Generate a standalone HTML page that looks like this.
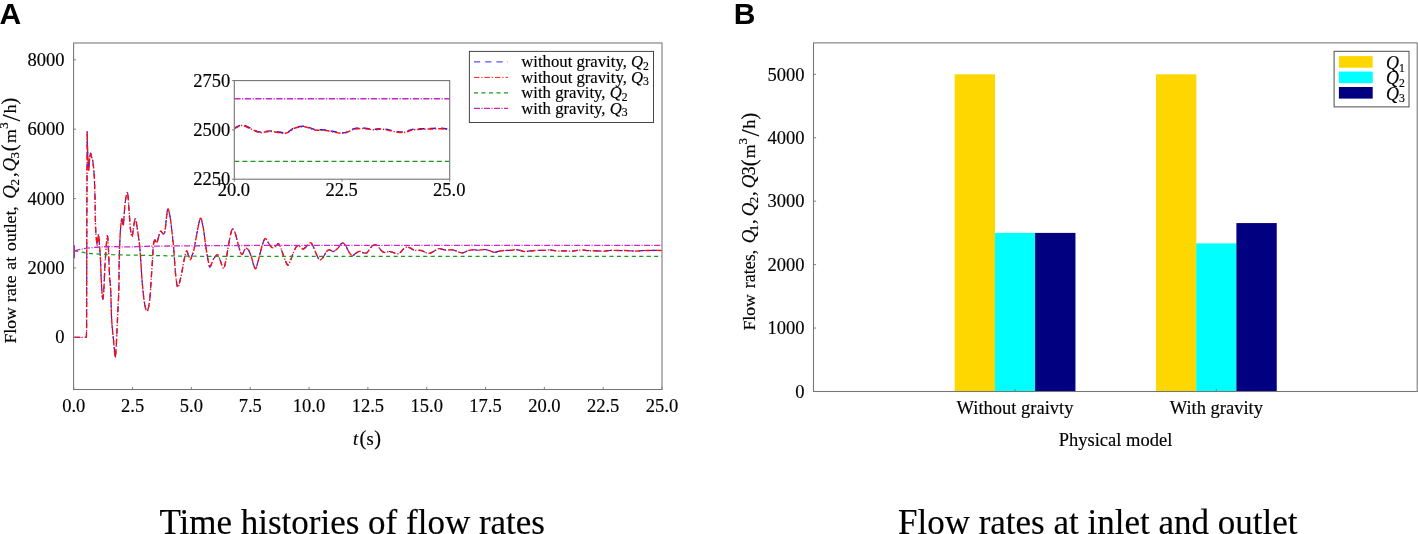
<!DOCTYPE html>
<html lang="en"><head><meta charset="utf-8"><title>Flow rates</title>
<style>html,body{margin:0;padding:0;background:#fff;}svg{display:block;}text{fill:#000;stroke:#000;stroke-width:.16px;}</style>
</head><body>
<svg width="1418" height="534" viewBox="0 0 1418 534">
<rect width="1418" height="534" fill="#fff"/>
<text x="-0.60" y="23.90" font-family="'Liberation Sans', Arial, Helvetica, sans-serif" font-size="30.00" text-anchor="start" font-weight="bold" style="stroke:none">A</text>
<text x="733.80" y="23.90" font-family="'Liberation Sans', Arial, Helvetica, sans-serif" font-size="30.00" text-anchor="start" font-weight="bold" style="stroke:none">B</text>
<defs><clipPath id="ca"><rect x="73.60" y="43.00" width="588.40" height="346.50"/></clipPath><clipPath id="ci"><rect x="234.30" y="80.60" width="215.40" height="98.60"/></clipPath></defs>
<g clip-path="url(#ca)" fill="none" stroke-linejoin="round">
<path d="M74.20 337.40L85.90 337.40L86.40 336.40L86.60 330.00L86.90 200.00L87.20 131.70C87.27 134.75 87.35 143.62 87.60 150.00C87.85 156.38 88.38 168.33 88.70 170.00C89.02 171.67 89.20 162.78 89.50 160.00C89.80 157.22 90.17 153.80 90.50 153.30C90.83 152.80 91.13 155.80 91.50 157.00C91.87 158.20 92.25 157.42 92.70 160.50C93.15 163.58 93.82 169.25 94.20 175.50C94.58 181.75 94.75 188.92 95.00 198.00C95.25 207.08 95.33 222.17 95.70 230.00C96.07 237.83 96.82 243.67 97.20 245.00C97.58 246.33 97.75 239.75 98.00 238.00C98.25 236.25 98.45 233.33 98.70 234.50C98.95 235.67 99.20 240.75 99.50 245.00C99.80 249.25 100.17 253.33 100.50 260.00C100.83 266.67 101.13 278.50 101.50 285.00C101.87 291.50 102.32 298.17 102.70 299.00C103.08 299.83 103.42 295.67 103.80 290.00C104.18 284.33 104.55 272.83 105.00 265.00C105.45 257.17 106.08 247.83 106.50 243.00C106.92 238.17 107.17 234.83 107.50 236.00C107.83 237.17 108.17 243.50 108.50 250.00C108.83 256.50 109.13 268.33 109.50 275.00C109.87 281.67 110.33 282.50 110.70 290.00C111.07 297.50 111.15 310.83 111.70 320.00C112.25 329.17 113.42 338.75 114.00 345.00C114.58 351.25 114.82 357.50 115.20 357.50C115.58 357.50 115.95 350.75 116.30 345.00C116.65 339.25 116.88 332.17 117.30 323.00C117.72 313.83 118.48 300.50 118.80 290.00C119.12 279.50 118.95 269.58 119.20 260.00C119.45 250.42 119.87 239.38 120.30 232.50C120.73 225.62 121.30 219.95 121.80 218.70C122.30 217.45 122.73 227.70 123.30 225.00C123.87 222.30 124.50 207.88 125.20 202.50C125.90 197.12 126.87 191.45 127.50 192.70C128.13 193.95 128.50 203.87 129.00 210.00C129.50 216.13 130.00 225.05 130.50 229.50C131.00 233.95 131.50 236.95 132.00 236.70C132.50 236.45 132.95 231.00 133.50 228.00C134.05 225.00 134.68 218.70 135.30 218.70C135.92 218.70 136.50 223.70 137.20 228.00C137.90 232.30 138.92 239.25 139.50 244.50C140.08 249.75 140.25 253.25 140.70 259.50C141.15 265.75 141.57 274.75 142.20 282.00C142.83 289.25 143.67 298.13 144.50 303.00C145.33 307.87 146.33 311.70 147.20 311.20C148.07 310.70 149.03 305.37 149.70 300.00C150.37 294.63 150.70 286.25 151.20 279.00C151.70 271.75 152.35 262.00 152.70 256.50C153.05 251.00 152.95 248.80 153.30 246.00C153.65 243.20 154.23 240.20 154.80 239.70C155.37 239.20 156.00 243.70 156.70 243.00C157.40 242.30 158.32 237.50 159.00 235.50C159.68 233.50 160.10 231.25 160.80 231.00C161.50 230.75 162.50 234.00 163.20 234.00C163.90 234.00 164.45 233.75 165.00 231.00C165.55 228.25 166.00 221.20 166.50 217.50C167.00 213.80 167.38 208.80 168.00 208.80C168.62 208.80 169.58 214.05 170.20 217.50C170.82 220.95 171.20 225.25 171.70 229.50C172.20 233.75 172.78 238.75 173.20 243.00C173.62 247.25 173.87 250.50 174.20 255.00C174.53 259.50 174.78 265.25 175.20 270.00C175.62 274.75 176.25 280.63 176.70 283.50C177.15 286.37 177.40 287.45 177.90 287.20C178.40 286.95 179.02 284.62 179.70 282.00C180.38 279.38 181.25 275.25 182.00 271.50C182.75 267.75 183.45 262.92 184.20 259.50C184.95 256.08 185.82 251.75 186.50 251.00C187.18 250.25 187.67 253.52 188.30 255.00C188.93 256.48 189.65 259.90 190.30 259.90C190.95 259.90 191.57 256.83 192.20 255.00C192.83 253.17 193.22 253.00 194.10 248.90C194.98 244.80 196.43 235.52 197.50 230.40C198.57 225.28 199.52 218.48 200.50 218.20C201.48 217.92 202.50 223.87 203.40 228.70C204.30 233.53 205.05 241.58 205.90 247.20C206.75 252.82 207.80 259.08 208.50 262.40C209.20 265.72 209.27 267.67 210.10 267.10C210.93 266.53 212.23 261.05 213.50 259.00C214.77 256.95 216.57 254.52 217.70 254.80C218.83 255.08 219.32 258.45 220.30 260.70C221.28 262.95 222.62 268.58 223.60 268.30C224.58 268.02 225.35 263.08 226.20 259.00C227.05 254.92 227.87 248.30 228.70 243.80C229.53 239.30 230.50 234.47 231.20 232.00C231.90 229.53 232.20 228.72 232.90 229.00C233.60 229.28 234.55 231.23 235.40 233.70C236.25 236.17 237.15 240.70 238.00 243.80C238.85 246.90 239.80 250.55 240.50 252.30C241.20 254.05 241.50 254.73 242.20 254.30C242.90 253.87 244.00 250.73 244.70 249.70C245.40 248.67 245.70 247.95 246.40 248.10C247.10 248.25 248.05 249.07 248.90 250.60C249.75 252.13 250.73 254.98 251.50 257.30C252.27 259.62 252.80 262.60 253.50 264.50C254.20 266.40 254.92 269.30 255.70 268.70C256.48 268.10 257.28 264.18 258.20 260.90C259.12 257.62 260.32 252.23 261.20 249.00C262.08 245.77 262.80 243.25 263.50 241.50C264.20 239.75 264.65 238.38 265.40 238.50C266.15 238.62 267.07 240.83 268.00 242.20C268.93 243.57 270.05 245.77 271.00 246.70C271.95 247.63 272.83 247.97 273.70 247.80C274.57 247.63 275.40 246.38 276.20 245.70C277.00 245.02 277.75 243.40 278.50 243.70C279.25 244.00 279.83 245.38 280.70 247.50C281.57 249.62 282.70 253.72 283.70 256.40C284.70 259.08 285.95 262.15 286.70 263.60C287.45 265.05 287.58 265.55 288.20 265.10C288.82 264.65 289.53 262.97 290.40 260.90C291.27 258.83 292.40 255.07 293.40 252.70C294.40 250.33 295.52 247.87 296.40 246.70C297.28 245.53 297.82 245.45 298.70 245.70C299.58 245.95 300.88 247.65 301.70 248.20C302.52 248.75 302.73 249.37 303.60 249.00C304.47 248.63 305.72 247.05 306.90 246.00C308.08 244.95 309.57 242.45 310.70 242.70C311.83 242.95 312.70 245.47 313.70 247.50C314.70 249.53 315.70 252.83 316.70 254.90C317.70 256.97 318.70 259.40 319.70 259.90C320.70 260.40 321.70 259.10 322.70 257.90C323.70 256.70 324.90 253.92 325.70 252.70C326.50 251.48 326.87 251.08 327.50 250.60C328.13 250.12 328.52 249.65 329.50 249.80C330.48 249.95 332.08 251.68 333.40 251.50C334.72 251.32 336.18 249.88 337.40 248.70C338.62 247.52 339.77 245.37 340.70 244.40C341.63 243.43 342.15 242.65 343.00 242.90C343.85 243.15 344.87 244.47 345.80 245.90C346.73 247.33 347.57 249.87 348.60 251.50C349.63 253.13 350.88 255.32 352.00 255.70C353.12 256.08 354.18 254.50 355.30 253.80C356.42 253.10 357.75 251.87 358.70 251.50C359.65 251.13 360.15 251.35 361.00 251.60C361.85 251.85 362.78 252.83 363.80 253.00C364.82 253.17 366.08 253.32 367.10 252.60C368.12 251.88 368.95 249.87 369.90 248.70C370.85 247.53 371.85 246.25 372.80 245.60C373.75 244.95 374.67 244.57 375.60 244.80C376.53 245.03 377.47 246.07 378.40 247.00C379.33 247.93 380.27 249.50 381.20 250.40C382.13 251.30 383.03 252.13 384.00 252.40C384.97 252.67 386.07 252.15 387.00 252.00C387.93 251.85 388.52 251.40 389.60 251.50C390.68 251.60 392.18 252.22 393.50 252.60C394.82 252.98 396.28 253.88 397.50 253.80C398.72 253.72 399.77 252.95 400.80 252.10C401.83 251.25 402.67 249.55 403.70 248.70C404.73 247.85 405.88 247.10 407.00 247.00C408.12 246.90 409.12 247.55 410.40 248.10C411.68 248.65 412.90 249.90 414.70 250.30C416.50 250.70 418.87 249.98 421.20 250.50C423.53 251.02 426.52 253.32 428.70 253.40C430.88 253.48 432.58 251.80 434.30 251.00C436.02 250.20 437.12 248.75 439.00 248.60C440.88 248.45 443.42 249.90 445.60 250.10C447.78 250.30 450.23 249.62 452.10 249.80C453.97 249.98 455.15 250.68 456.80 251.20C458.45 251.72 460.13 252.98 462.00 252.90C463.87 252.82 466.05 251.22 468.00 250.70C469.95 250.18 471.97 249.87 473.70 249.80C475.43 249.73 476.53 250.35 478.40 250.30C480.27 250.25 483.03 249.43 484.90 249.50C486.77 249.57 488.03 250.23 489.60 250.70C491.17 251.17 492.58 252.25 494.30 252.30C496.02 252.35 498.03 251.30 499.90 251.00C501.77 250.70 503.63 250.62 505.50 250.50C507.37 250.38 509.38 250.45 511.10 250.30C512.82 250.15 514.23 249.57 515.80 249.60C517.37 249.63 518.93 250.17 520.50 250.50C522.07 250.83 523.62 251.53 525.20 251.60C526.78 251.67 528.03 251.10 530.00 250.90C531.97 250.70 534.61 250.49 537.00 250.40C539.39 250.31 542.42 250.48 544.35 250.39C546.28 250.29 547.13 249.83 548.59 249.83C550.04 249.83 551.41 250.18 553.06 250.39C554.70 250.60 556.66 251.00 558.47 251.08C560.27 251.16 561.57 250.86 563.88 250.87C566.19 250.89 570.08 251.28 572.35 251.19C574.63 251.09 575.76 250.47 577.53 250.28C579.29 250.10 581.14 250.02 582.94 250.07C584.74 250.13 586.43 250.52 588.35 250.63C590.27 250.74 591.92 250.64 594.47 250.73C597.02 250.83 601.10 251.26 603.65 251.22C606.19 251.18 607.96 250.64 609.76 250.49C611.57 250.35 612.67 250.34 614.47 250.35C616.27 250.37 618.82 250.57 620.59 250.60C622.35 250.62 622.51 250.41 625.06 250.49C627.61 250.57 633.06 251.06 635.88 251.08C638.71 251.10 639.96 250.69 642.00 250.60C644.04 250.50 645.57 250.52 648.12 250.49C650.67 250.46 654.98 250.40 657.29 250.42C659.61 250.44 661.22 250.57 662.00 250.60" stroke="#1a1aff" stroke-width="1.15" stroke-dasharray="6.2 5"/>
<path d="M74.20 337.40L85.90 337.40L86.40 336.40L86.60 330.00L86.90 200.00L87.20 131.70C87.27 134.75 87.35 143.62 87.60 150.00C87.85 156.38 88.38 168.33 88.70 170.00C89.02 171.67 89.20 162.78 89.50 160.00C89.80 157.22 90.17 153.80 90.50 153.30C90.83 152.80 91.13 155.80 91.50 157.00C91.87 158.20 92.25 157.42 92.70 160.50C93.15 163.58 93.82 169.25 94.20 175.50C94.58 181.75 94.75 188.92 95.00 198.00C95.25 207.08 95.33 222.17 95.70 230.00C96.07 237.83 96.82 243.67 97.20 245.00C97.58 246.33 97.75 239.75 98.00 238.00C98.25 236.25 98.45 233.33 98.70 234.50C98.95 235.67 99.20 240.75 99.50 245.00C99.80 249.25 100.17 253.33 100.50 260.00C100.83 266.67 101.13 278.50 101.50 285.00C101.87 291.50 102.32 298.17 102.70 299.00C103.08 299.83 103.42 295.67 103.80 290.00C104.18 284.33 104.55 272.83 105.00 265.00C105.45 257.17 106.08 247.83 106.50 243.00C106.92 238.17 107.17 234.83 107.50 236.00C107.83 237.17 108.17 243.50 108.50 250.00C108.83 256.50 109.13 268.33 109.50 275.00C109.87 281.67 110.33 282.50 110.70 290.00C111.07 297.50 111.15 310.83 111.70 320.00C112.25 329.17 113.42 338.75 114.00 345.00C114.58 351.25 114.82 357.50 115.20 357.50C115.58 357.50 115.95 350.75 116.30 345.00C116.65 339.25 116.88 332.17 117.30 323.00C117.72 313.83 118.48 300.50 118.80 290.00C119.12 279.50 118.95 269.58 119.20 260.00C119.45 250.42 119.87 239.38 120.30 232.50C120.73 225.62 121.30 219.95 121.80 218.70C122.30 217.45 122.73 227.70 123.30 225.00C123.87 222.30 124.50 207.88 125.20 202.50C125.90 197.12 126.87 191.45 127.50 192.70C128.13 193.95 128.50 203.87 129.00 210.00C129.50 216.13 130.00 225.05 130.50 229.50C131.00 233.95 131.50 236.95 132.00 236.70C132.50 236.45 132.95 231.00 133.50 228.00C134.05 225.00 134.68 218.70 135.30 218.70C135.92 218.70 136.50 223.70 137.20 228.00C137.90 232.30 138.92 239.25 139.50 244.50C140.08 249.75 140.25 253.25 140.70 259.50C141.15 265.75 141.57 274.75 142.20 282.00C142.83 289.25 143.67 298.13 144.50 303.00C145.33 307.87 146.33 311.70 147.20 311.20C148.07 310.70 149.03 305.37 149.70 300.00C150.37 294.63 150.70 286.25 151.20 279.00C151.70 271.75 152.35 262.00 152.70 256.50C153.05 251.00 152.95 248.80 153.30 246.00C153.65 243.20 154.23 240.20 154.80 239.70C155.37 239.20 156.00 243.70 156.70 243.00C157.40 242.30 158.32 237.50 159.00 235.50C159.68 233.50 160.10 231.25 160.80 231.00C161.50 230.75 162.50 234.00 163.20 234.00C163.90 234.00 164.45 233.75 165.00 231.00C165.55 228.25 166.00 221.20 166.50 217.50C167.00 213.80 167.38 208.80 168.00 208.80C168.62 208.80 169.58 214.05 170.20 217.50C170.82 220.95 171.20 225.25 171.70 229.50C172.20 233.75 172.78 238.75 173.20 243.00C173.62 247.25 173.87 250.50 174.20 255.00C174.53 259.50 174.78 265.25 175.20 270.00C175.62 274.75 176.25 280.63 176.70 283.50C177.15 286.37 177.40 287.45 177.90 287.20C178.40 286.95 179.02 284.62 179.70 282.00C180.38 279.38 181.25 275.25 182.00 271.50C182.75 267.75 183.45 262.92 184.20 259.50C184.95 256.08 185.82 251.75 186.50 251.00C187.18 250.25 187.67 253.52 188.30 255.00C188.93 256.48 189.65 259.90 190.30 259.90C190.95 259.90 191.57 256.83 192.20 255.00C192.83 253.17 193.22 253.00 194.10 248.90C194.98 244.80 196.43 235.52 197.50 230.40C198.57 225.28 199.52 218.48 200.50 218.20C201.48 217.92 202.50 223.87 203.40 228.70C204.30 233.53 205.05 241.58 205.90 247.20C206.75 252.82 207.80 259.08 208.50 262.40C209.20 265.72 209.27 267.67 210.10 267.10C210.93 266.53 212.23 261.05 213.50 259.00C214.77 256.95 216.57 254.52 217.70 254.80C218.83 255.08 219.32 258.45 220.30 260.70C221.28 262.95 222.62 268.58 223.60 268.30C224.58 268.02 225.35 263.08 226.20 259.00C227.05 254.92 227.87 248.30 228.70 243.80C229.53 239.30 230.50 234.47 231.20 232.00C231.90 229.53 232.20 228.72 232.90 229.00C233.60 229.28 234.55 231.23 235.40 233.70C236.25 236.17 237.15 240.70 238.00 243.80C238.85 246.90 239.80 250.55 240.50 252.30C241.20 254.05 241.50 254.73 242.20 254.30C242.90 253.87 244.00 250.73 244.70 249.70C245.40 248.67 245.70 247.95 246.40 248.10C247.10 248.25 248.05 249.07 248.90 250.60C249.75 252.13 250.73 254.98 251.50 257.30C252.27 259.62 252.80 262.60 253.50 264.50C254.20 266.40 254.92 269.30 255.70 268.70C256.48 268.10 257.28 264.18 258.20 260.90C259.12 257.62 260.32 252.23 261.20 249.00C262.08 245.77 262.80 243.25 263.50 241.50C264.20 239.75 264.65 238.38 265.40 238.50C266.15 238.62 267.07 240.83 268.00 242.20C268.93 243.57 270.05 245.77 271.00 246.70C271.95 247.63 272.83 247.97 273.70 247.80C274.57 247.63 275.40 246.38 276.20 245.70C277.00 245.02 277.75 243.40 278.50 243.70C279.25 244.00 279.83 245.38 280.70 247.50C281.57 249.62 282.70 253.72 283.70 256.40C284.70 259.08 285.95 262.15 286.70 263.60C287.45 265.05 287.58 265.55 288.20 265.10C288.82 264.65 289.53 262.97 290.40 260.90C291.27 258.83 292.40 255.07 293.40 252.70C294.40 250.33 295.52 247.87 296.40 246.70C297.28 245.53 297.82 245.45 298.70 245.70C299.58 245.95 300.88 247.65 301.70 248.20C302.52 248.75 302.73 249.37 303.60 249.00C304.47 248.63 305.72 247.05 306.90 246.00C308.08 244.95 309.57 242.45 310.70 242.70C311.83 242.95 312.70 245.47 313.70 247.50C314.70 249.53 315.70 252.83 316.70 254.90C317.70 256.97 318.70 259.40 319.70 259.90C320.70 260.40 321.70 259.10 322.70 257.90C323.70 256.70 324.90 253.92 325.70 252.70C326.50 251.48 326.87 251.08 327.50 250.60C328.13 250.12 328.52 249.65 329.50 249.80C330.48 249.95 332.08 251.68 333.40 251.50C334.72 251.32 336.18 249.88 337.40 248.70C338.62 247.52 339.77 245.37 340.70 244.40C341.63 243.43 342.15 242.65 343.00 242.90C343.85 243.15 344.87 244.47 345.80 245.90C346.73 247.33 347.57 249.87 348.60 251.50C349.63 253.13 350.88 255.32 352.00 255.70C353.12 256.08 354.18 254.50 355.30 253.80C356.42 253.10 357.75 251.87 358.70 251.50C359.65 251.13 360.15 251.35 361.00 251.60C361.85 251.85 362.78 252.83 363.80 253.00C364.82 253.17 366.08 253.32 367.10 252.60C368.12 251.88 368.95 249.87 369.90 248.70C370.85 247.53 371.85 246.25 372.80 245.60C373.75 244.95 374.67 244.57 375.60 244.80C376.53 245.03 377.47 246.07 378.40 247.00C379.33 247.93 380.27 249.50 381.20 250.40C382.13 251.30 383.03 252.13 384.00 252.40C384.97 252.67 386.07 252.15 387.00 252.00C387.93 251.85 388.52 251.40 389.60 251.50C390.68 251.60 392.18 252.22 393.50 252.60C394.82 252.98 396.28 253.88 397.50 253.80C398.72 253.72 399.77 252.95 400.80 252.10C401.83 251.25 402.67 249.55 403.70 248.70C404.73 247.85 405.88 247.10 407.00 247.00C408.12 246.90 409.12 247.55 410.40 248.10C411.68 248.65 412.90 249.90 414.70 250.30C416.50 250.70 418.87 249.98 421.20 250.50C423.53 251.02 426.52 253.32 428.70 253.40C430.88 253.48 432.58 251.80 434.30 251.00C436.02 250.20 437.12 248.75 439.00 248.60C440.88 248.45 443.42 249.90 445.60 250.10C447.78 250.30 450.23 249.62 452.10 249.80C453.97 249.98 455.15 250.68 456.80 251.20C458.45 251.72 460.13 252.98 462.00 252.90C463.87 252.82 466.05 251.22 468.00 250.70C469.95 250.18 471.97 249.87 473.70 249.80C475.43 249.73 476.53 250.35 478.40 250.30C480.27 250.25 483.03 249.43 484.90 249.50C486.77 249.57 488.03 250.23 489.60 250.70C491.17 251.17 492.58 252.25 494.30 252.30C496.02 252.35 498.03 251.30 499.90 251.00C501.77 250.70 503.63 250.62 505.50 250.50C507.37 250.38 509.38 250.45 511.10 250.30C512.82 250.15 514.23 249.57 515.80 249.60C517.37 249.63 518.93 250.17 520.50 250.50C522.07 250.83 523.62 251.53 525.20 251.60C526.78 251.67 528.03 251.10 530.00 250.90C531.97 250.70 534.61 250.49 537.00 250.40C539.39 250.31 542.42 250.48 544.35 250.39C546.28 250.29 547.13 249.83 548.59 249.83C550.04 249.83 551.41 250.18 553.06 250.39C554.70 250.60 556.66 251.00 558.47 251.08C560.27 251.16 561.57 250.86 563.88 250.87C566.19 250.89 570.08 251.28 572.35 251.19C574.63 251.09 575.76 250.47 577.53 250.28C579.29 250.10 581.14 250.02 582.94 250.07C584.74 250.13 586.43 250.52 588.35 250.63C590.27 250.74 591.92 250.64 594.47 250.73C597.02 250.83 601.10 251.26 603.65 251.22C606.19 251.18 607.96 250.64 609.76 250.49C611.57 250.35 612.67 250.34 614.47 250.35C616.27 250.37 618.82 250.57 620.59 250.60C622.35 250.62 622.51 250.41 625.06 250.49C627.61 250.57 633.06 251.06 635.88 251.08C638.71 251.10 639.96 250.69 642.00 250.60C644.04 250.50 645.57 250.52 648.12 250.49C650.67 250.46 654.98 250.40 657.29 250.42C659.61 250.44 661.22 250.57 662.00 250.60" stroke="#ff0d0d" stroke-width="1.4" stroke-dasharray="5.4 1.9 1.3 1.9"/>
<path d="M74.40 250.60C76.17 250.97 80.83 252.22 85.00 252.80C89.17 253.38 94.47 253.78 99.40 254.10C104.33 254.42 107.55 254.55 114.60 254.75C121.65 254.95 132.97 255.12 141.70 255.30C150.43 255.48 158.55 255.66 167.00 255.80C175.45 255.94 178.57 256.07 192.40 256.15C206.23 256.23 171.67 256.27 250.00 256.30C328.33 256.33 593.67 256.30 662.40 256.30" stroke="#1f961f" stroke-width="1.25" stroke-dasharray="4 3.44"/>
<path d="M74.4 245.3L74.4 258.2" stroke="#c01ac0" stroke-width="1.2"/>
<path d="M74.40 250.80C75.33 250.57 77.95 249.83 80.00 249.40C82.05 248.97 83.47 248.60 86.70 248.20C89.93 247.80 95.18 247.27 99.40 247.00C103.62 246.73 107.07 246.62 112.00 246.60C116.93 246.58 124.05 246.93 129.00 246.90C133.95 246.88 136.77 246.57 141.70 246.45C146.63 246.32 150.15 246.26 158.60 246.15C167.05 246.04 180.50 245.90 192.40 245.80C204.30 245.70 212.07 245.61 230.00 245.55C247.93 245.49 227.93 245.47 300.00 245.45C372.07 245.43 602.00 245.45 662.40 245.45" stroke="#c727c7" stroke-width="1.3" stroke-dasharray="6 1.5 1 1.5"/>
</g>
<rect x="73.60" y="43.00" width="588.40" height="346.50" fill="none" stroke="#757575" stroke-width="1.05"/>
<path d="M73.75 389.50v-2.6M132.57 389.50v-2.6M191.40 389.50v-2.6M250.23 389.50v-2.6M309.05 389.50v-2.6M367.88 389.50v-2.6M426.70 389.50v-2.6M485.53 389.50v-2.6M544.35 389.50v-2.6M603.18 389.50v-2.6M662.00 389.50v-2.6M73.60 337.30h2.3M73.60 267.92h2.3M73.60 198.55h2.3M73.60 129.17h2.3M73.60 59.80h2.3" stroke="#757575" stroke-width="0.9" fill="none"/>
<text x="73.75" y="411.50" font-family="'Liberation Serif', 'Times New Roman', Times, serif" font-size="18.50" text-anchor="middle" >0.0</text>
<text x="132.57" y="411.50" font-family="'Liberation Serif', 'Times New Roman', Times, serif" font-size="18.50" text-anchor="middle" >2.5</text>
<text x="191.40" y="411.50" font-family="'Liberation Serif', 'Times New Roman', Times, serif" font-size="18.50" text-anchor="middle" >5.0</text>
<text x="250.23" y="411.50" font-family="'Liberation Serif', 'Times New Roman', Times, serif" font-size="18.50" text-anchor="middle" >7.5</text>
<text x="309.05" y="411.50" font-family="'Liberation Serif', 'Times New Roman', Times, serif" font-size="18.50" text-anchor="middle" >10.0</text>
<text x="367.88" y="411.50" font-family="'Liberation Serif', 'Times New Roman', Times, serif" font-size="18.50" text-anchor="middle" >12.5</text>
<text x="426.70" y="411.50" font-family="'Liberation Serif', 'Times New Roman', Times, serif" font-size="18.50" text-anchor="middle" >15.0</text>
<text x="485.53" y="411.50" font-family="'Liberation Serif', 'Times New Roman', Times, serif" font-size="18.50" text-anchor="middle" >17.5</text>
<text x="544.35" y="411.50" font-family="'Liberation Serif', 'Times New Roman', Times, serif" font-size="18.50" text-anchor="middle" >20.0</text>
<text x="603.18" y="411.50" font-family="'Liberation Serif', 'Times New Roman', Times, serif" font-size="18.50" text-anchor="middle" >22.5</text>
<text x="662.00" y="411.50" font-family="'Liberation Serif', 'Times New Roman', Times, serif" font-size="18.50" text-anchor="middle" >25.0</text>
<text x="64.60" y="343.40" font-family="'Liberation Serif', 'Times New Roman', Times, serif" font-size="18.50" text-anchor="end" >0</text>
<text x="64.60" y="274.02" font-family="'Liberation Serif', 'Times New Roman', Times, serif" font-size="18.50" text-anchor="end" >2000</text>
<text x="64.60" y="204.65" font-family="'Liberation Serif', 'Times New Roman', Times, serif" font-size="18.50" text-anchor="end" >4000</text>
<text x="64.60" y="135.27" font-family="'Liberation Serif', 'Times New Roman', Times, serif" font-size="18.50" text-anchor="end" >6000</text>
<text x="64.60" y="65.90" font-family="'Liberation Serif', 'Times New Roman', Times, serif" font-size="18.50" text-anchor="end" >8000</text>
<text font-family="'Liberation Serif', 'Times New Roman', Times, serif" font-size="18.50" y="444.8"><tspan x="353.0" font-style="italic">t</tspan><tspan x="359.6" dy="0.6" font-size="20.35">(</tspan><tspan x="366.6" dy="-0.6" font-size="18.50">s</tspan><tspan x="374.2" dy="0.6" font-size="20.35">)</tspan></text>
<g transform="translate(15.70 343.30) rotate(-90)">
<text font-family="'Liberation Serif', 'Times New Roman', Times, serif" font-size="18.50">
<tspan x="-0.30" y="0.00" font-size="17.70">Flow</tspan>
<tspan x="41.30" y="0.00" font-size="17.70">rate</tspan>
<tspan x="73.60" y="0.00" font-size="17.70">at</tspan>
<tspan x="92.40" y="0.00" font-size="17.70">outlet,</tspan>
<tspan x="144.60" y="0.00" font-size="18.87" font-style="italic">Q</tspan>
<tspan x="157.70" y="3.30" font-size="12.95">2</tspan>
<tspan x="166.30" y="0.00" font-size="18.50">,</tspan>
<tspan x="171.70" y="0.00" font-size="18.87" font-style="italic">Q</tspan>
<tspan x="184.70" y="3.30" font-size="12.95">3</tspan>
<tspan x="192.10" y="0.60" font-size="20.35">(</tspan>
<tspan x="200.20" y="0.00" font-size="17.70">m</tspan>
<tspan x="214.50" y="-7.60" font-size="12.95">3</tspan>
<tspan x="221.70" y="3.90" font-size="25.71">/</tspan>
<tspan x="230.10" y="0.00" font-size="17.70">h</tspan>
<tspan x="238.70" y="0.60" font-size="20.35">)</tspan>
</text></g>
<rect x="234.30" y="80.60" width="215.40" height="98.60" fill="#fff" stroke="none"/>
<g clip-path="url(#ci)" fill="none" stroke-linejoin="round">
<path d="M234.30 161.45H449.70" stroke="#1f961f" stroke-width="1.3" stroke-dasharray="5 3.1"/>
<path d="M234.30 98.74H449.70" stroke="#c727c7" stroke-width="1.3" stroke-dasharray="6.2 1.6 1.1 1.6"/>
<path d="M234.30 128.13C235.59 127.60 239.40 124.97 242.05 124.97C244.71 124.97 247.22 126.94 250.24 128.13C253.26 129.31 256.85 131.61 260.15 132.07C263.45 132.53 265.82 130.79 270.06 130.89C274.29 130.98 281.40 133.22 285.57 132.66C289.73 132.10 291.81 128.59 295.04 127.53C298.27 126.48 301.65 126.02 304.95 126.35C308.25 126.68 311.34 128.88 314.86 129.51C318.38 130.13 321.39 129.54 326.06 130.10C330.73 130.66 338.19 133.09 342.86 132.86C347.53 132.63 350.76 129.54 354.06 128.72C357.37 127.90 359.38 127.83 362.68 127.93C365.98 128.03 370.65 129.18 373.88 129.31C377.11 129.44 377.40 128.26 382.06 128.72C386.73 129.18 396.71 131.97 401.88 132.07C407.05 132.17 409.35 129.87 413.08 129.31C416.82 128.75 419.62 128.88 424.28 128.72C428.95 128.55 436.85 128.22 441.08 128.32C445.32 128.42 448.26 129.14 449.70 129.31" stroke="#1a1aff" stroke-width="1.45" stroke-dasharray="6.2 5"/>
<path d="M234.30 128.62C235.59 128.09 239.40 125.46 242.05 125.46C244.71 125.46 247.22 127.44 250.24 128.62C253.26 129.80 256.85 132.10 260.15 132.56C263.45 133.02 265.82 131.28 270.06 131.38C274.29 131.48 281.40 133.71 285.57 133.15C289.73 132.60 291.81 129.08 295.04 128.03C298.27 126.97 301.65 126.51 304.95 126.84C308.25 127.17 311.34 129.37 314.86 130.00C318.38 130.62 321.39 130.03 326.06 130.59C330.73 131.15 338.19 133.58 342.86 133.35C347.53 133.12 350.76 130.03 354.06 129.21C357.37 128.39 359.38 128.32 362.68 128.42C365.98 128.52 370.65 129.67 373.88 129.80C377.11 129.93 377.40 128.75 382.06 129.21C386.73 129.67 396.71 132.46 401.88 132.56C407.05 132.66 409.35 130.36 413.08 129.80C416.82 129.24 419.62 129.37 424.28 129.21C428.95 129.05 436.85 128.72 441.08 128.82C445.32 128.91 448.26 129.64 449.70 129.80" stroke="#ff0d0d" stroke-width="1.5" stroke-dasharray="5.4 1.9 1.3 1.9"/>
</g>
<rect x="234.30" y="80.60" width="215.40" height="98.60" fill="none" stroke="#757575" stroke-width="1.1"/>
<path d="M234.30 179.20v2.4M234.30 80.60h-2.4M342.00 179.20v2.4M234.30 129.90h-2.4M449.70 179.20v2.4M234.30 179.20h-2.4" stroke="#757575" stroke-width="0.9" fill="none"/>
<text x="233.90" y="195.70" font-family="'Liberation Serif', 'Times New Roman', Times, serif" font-size="18.50" text-anchor="middle" >20.0</text>
<text x="341.60" y="195.70" font-family="'Liberation Serif', 'Times New Roman', Times, serif" font-size="18.50" text-anchor="middle" >22.5</text>
<text x="449.30" y="195.70" font-family="'Liberation Serif', 'Times New Roman', Times, serif" font-size="18.50" text-anchor="middle" >25.0</text>
<text x="230.20" y="86.50" font-family="'Liberation Serif', 'Times New Roman', Times, serif" font-size="18.50" text-anchor="end" >2750</text>
<text x="230.20" y="135.80" font-family="'Liberation Serif', 'Times New Roman', Times, serif" font-size="18.50" text-anchor="end" >2500</text>
<text x="230.20" y="185.10" font-family="'Liberation Serif', 'Times New Roman', Times, serif" font-size="18.50" text-anchor="end" >2250</text>
<rect x="469.4" y="51.4" width="184.1" height="71.1" fill="#fff" stroke="#454545" stroke-width="1"/>
<path d="M474 61.90H508" stroke="#1a1aff" stroke-width="0.95" stroke-dasharray="6.2 5" fill="none"/>
<path d="M474 77.40H508" stroke="#ff0d0d" stroke-width="0.95" stroke-dasharray="5.4 1.9 1.3 1.9" fill="none"/>
<path d="M474 92.80H508" stroke="#1f961f" stroke-width="1.25" stroke-dasharray="4 3.5" fill="none"/>
<path d="M474 108.30H508" stroke="#c727c7" stroke-width="1.3" stroke-dasharray="6 1.5 1 1.5" fill="none"/>
<text x="521.30" y="67.40" font-family="'Liberation Serif', 'Times New Roman', Times, serif" font-size="16.70" text-anchor="start" >without gravity, <tspan font-style="italic" font-size="100%">Q</tspan><tspan font-size="70%" dy="0.22em">2</tspan></text>
<text x="521.30" y="82.90" font-family="'Liberation Serif', 'Times New Roman', Times, serif" font-size="16.70" text-anchor="start" >without gravity, <tspan font-style="italic" font-size="100%">Q</tspan><tspan font-size="70%" dy="0.22em">3</tspan></text>
<text x="521.30" y="98.30" font-family="'Liberation Serif', 'Times New Roman', Times, serif" font-size="16.70" text-anchor="start" >with gravity, <tspan font-style="italic" font-size="100%">Q</tspan><tspan font-size="70%" dy="0.22em">2</tspan></text>
<text x="521.30" y="113.80" font-family="'Liberation Serif', 'Times New Roman', Times, serif" font-size="16.70" text-anchor="start" >with gravity, <tspan font-style="italic" font-size="100%">Q</tspan><tspan font-size="70%" dy="0.22em">3</tspan></text>
<text x="352.20" y="533.90" font-family="'Liberation Serif', 'Times New Roman', Times, serif" font-size="35.00" text-anchor="middle" >Time histories of flow rates</text>
<rect x="954.70" y="74.30" width="40.35" height="317.20" fill="#ffd700"/>
<rect x="994.90" y="232.90" width="40.35" height="158.60" fill="#00ffff"/>
<rect x="1035.10" y="232.90" width="40.35" height="158.60" fill="#000080"/>
<rect x="1156.00" y="74.30" width="40.35" height="317.20" fill="#ffd700"/>
<rect x="1196.20" y="243.37" width="40.35" height="148.13" fill="#00ffff"/>
<rect x="1236.40" y="223.07" width="40.35" height="168.43" fill="#000080"/>
<rect x="813.50" y="42.90" width="603.70" height="348.60" fill="none" stroke="#757575" stroke-width="1.05"/>
<path d="M813.50 391.50h2.6M813.50 328.06h2.6M813.50 264.62h2.6M813.50 201.18h2.6M813.50 137.74h2.6M813.50 74.30h2.6M1015.00 391.50v-2.6M1216.30 391.50v-2.6" stroke="#757575" stroke-width="0.9" fill="none"/>
<text x="804.40" y="397.80" font-family="'Liberation Serif', 'Times New Roman', Times, serif" font-size="18.50" text-anchor="end" >0</text>
<text x="804.40" y="334.36" font-family="'Liberation Serif', 'Times New Roman', Times, serif" font-size="18.50" text-anchor="end" >1000</text>
<text x="804.40" y="270.92" font-family="'Liberation Serif', 'Times New Roman', Times, serif" font-size="18.50" text-anchor="end" >2000</text>
<text x="804.40" y="207.48" font-family="'Liberation Serif', 'Times New Roman', Times, serif" font-size="18.50" text-anchor="end" >3000</text>
<text x="804.40" y="144.04" font-family="'Liberation Serif', 'Times New Roman', Times, serif" font-size="18.50" text-anchor="end" >4000</text>
<text x="804.40" y="80.60" font-family="'Liberation Serif', 'Times New Roman', Times, serif" font-size="18.50" text-anchor="end" >5000</text>
<text x="1015.00" y="413.70" font-family="'Liberation Serif', 'Times New Roman', Times, serif" font-size="18.50" text-anchor="middle" >Without graivty</text>
<text x="1216.30" y="413.70" font-family="'Liberation Serif', 'Times New Roman', Times, serif" font-size="18.50" text-anchor="middle" >With gravity</text>
<text x="1115.50" y="445.80" font-family="'Liberation Serif', 'Times New Roman', Times, serif" font-size="18.50" text-anchor="middle" >Physical model</text>
<g transform="translate(754.90 330.30) rotate(-90)">
<text font-family="'Liberation Serif', 'Times New Roman', Times, serif" font-size="18.50">
<tspan x="-0.30" y="0.00" font-size="17.70">Flow</tspan>
<tspan x="42.00" y="0.00" font-size="18.00">rates,</tspan>
<tspan x="87.00" y="0.00" font-size="18.87" font-style="italic">Q</tspan>
<tspan x="99.00" y="3.30" font-size="12.95">1</tspan>
<tspan x="106.40" y="0.00" font-size="18.50">,</tspan>
<tspan x="114.00" y="0.00" font-size="18.87" font-style="italic">Q</tspan>
<tspan x="127.00" y="3.30" font-size="12.95">2</tspan>
<tspan x="134.30" y="0.00" font-size="18.50">,</tspan>
<tspan x="142.00" y="0.00" font-size="18.87" font-style="italic">Q</tspan>
<tspan x="154.90" y="0.00" font-size="18.50">3</tspan>
<tspan x="164.10" y="0.60" font-size="20.35">(</tspan>
<tspan x="172.10" y="0.00" font-size="17.70">m</tspan>
<tspan x="185.70" y="-7.60" font-size="12.95">3</tspan>
<tspan x="193.70" y="3.90" font-size="25.71">/</tspan>
<tspan x="201.90" y="0.00" font-size="17.70">h</tspan>
<tspan x="210.70" y="0.60" font-size="20.35">)</tspan>
</text></g>
<rect x="1334.1" y="51.3" width="74.9" height="55.6" fill="#fff" stroke="#4c4c4c" stroke-width="1"/>
<rect x="1338.9" y="56.10" width="33.8" height="11.6" fill="#ffd700"/>
<text x="1386.00" y="69.00" font-family="'Liberation Serif', 'Times New Roman', Times, serif" font-size="16.70" text-anchor="start" ><tspan font-style="italic" font-size="108%">Q</tspan><tspan font-size="70%" dy="0.22em">1</tspan></text>
<rect x="1338.9" y="71.55" width="33.8" height="11.6" fill="#00ffff"/>
<text x="1386.00" y="84.45" font-family="'Liberation Serif', 'Times New Roman', Times, serif" font-size="16.70" text-anchor="start" ><tspan font-style="italic" font-size="108%">Q</tspan><tspan font-size="70%" dy="0.22em">2</tspan></text>
<rect x="1338.9" y="87.00" width="33.8" height="11.6" fill="#000080"/>
<text x="1386.00" y="99.90" font-family="'Liberation Serif', 'Times New Roman', Times, serif" font-size="16.70" text-anchor="start" ><tspan font-style="italic" font-size="108%">Q</tspan><tspan font-size="70%" dy="0.22em">3</tspan></text>
<text x="1097.70" y="533.90" font-family="'Liberation Serif', 'Times New Roman', Times, serif" font-size="35.00" text-anchor="middle" >Flow rates at inlet and outlet</text>
</svg>
</body></html>
